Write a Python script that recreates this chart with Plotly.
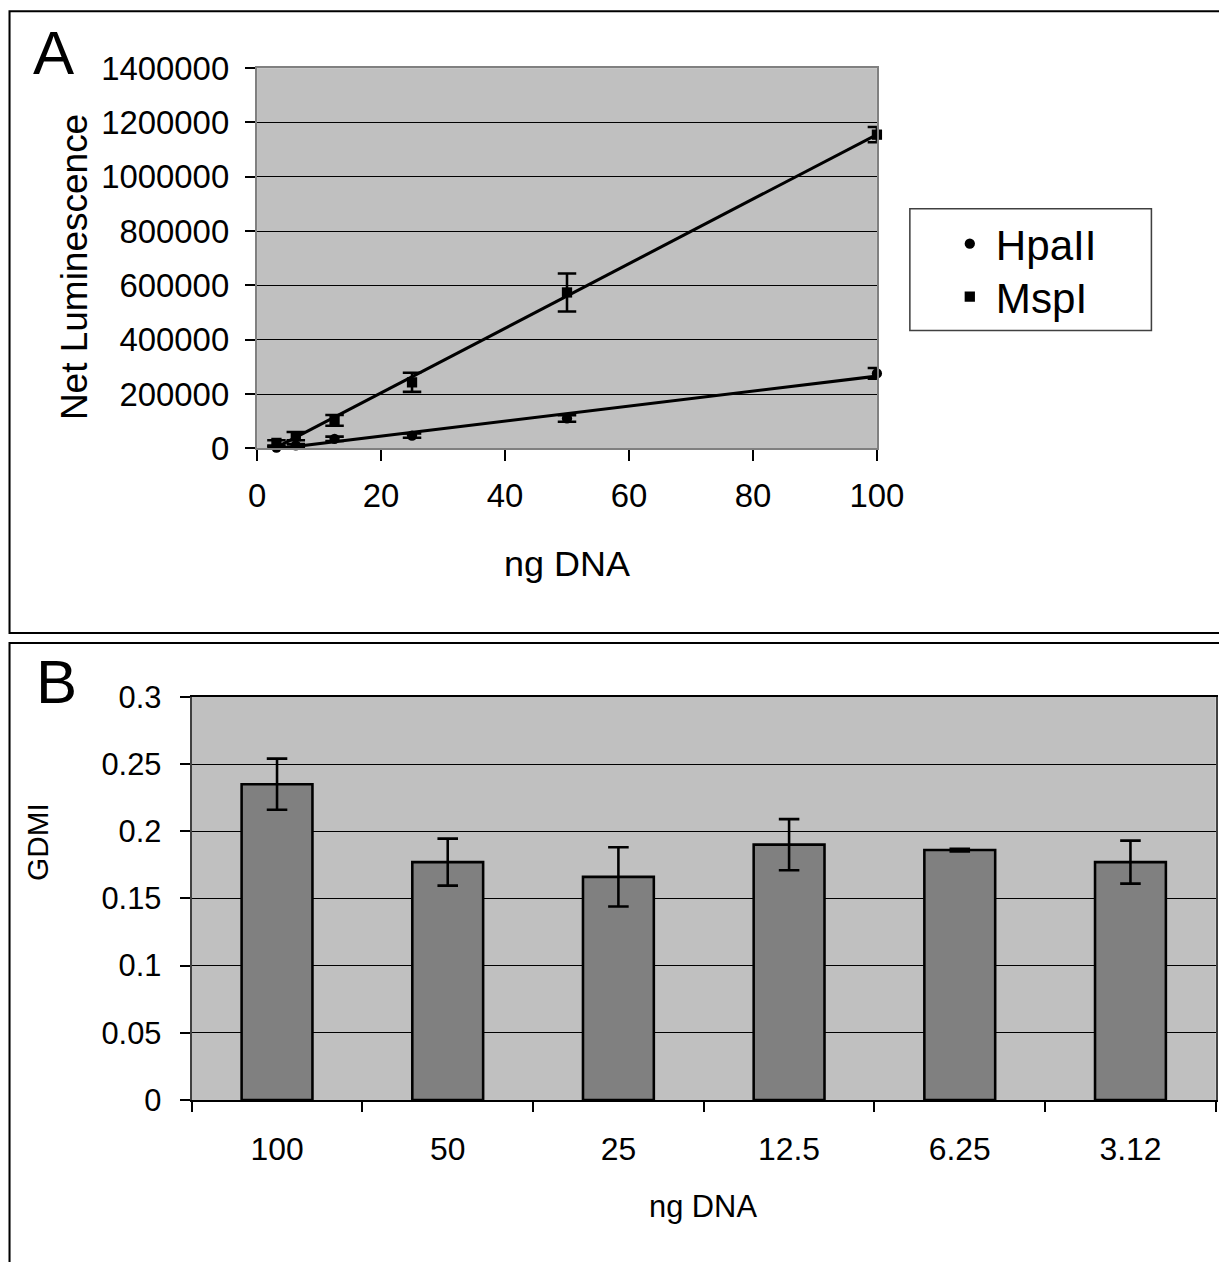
import numpy as np
import plotly.graph_objects as go

# ---- Panel A data ----
ng_dna = [3.125, 6.25, 12.5, 25, 50, 100]
hpaii = [3000, 11000, 35000, 47000, 110000, 276000]
hpaii_err = [3000, 5000, 8000, 8000, 12000, 20000]
mspi = [20000, 45000, 103000, 243000, 574000, 1155000]
mspi_err = [10000, 15000, 20000, 35000, 70000, 28000]

# ---- Panel B data ----
gdmi_labels = ["100", "50", "25", "12.5", "6.25", "3.12"]
gdmi = [0.235, 0.177, 0.166, 0.190, 0.186, 0.177]
gdmi_err = [0.019, 0.0175, 0.022, 0.019, 0.001, 0.016]

FONT = "Liberation Sans, Arial, sans-serif"

# Mapping from reference-image pixels to figure pixels (compensates the
# capture scale/offset observed for the rendered page).
SC = 0.973
OFF_X, OFF_Y = 7.7, 17.0
BODY = 8
FW, FH = 1250, 1275
S = 1 / SC


def fx(x):
    return (x - OFF_X) / SC - BODY


def fy(y):
    return (y - OFF_Y) / SC - BODY


def px(x):
    return fx(x) / FW


def py(y):
    return 1 - fy(y) / FH


def sz(v):
    return v * S


def isz(v):
    return int(round(v * S))


fig = go.Figure()


def trend(xs, ys):
    m, b = np.polyfit(xs, ys, 1)
    xx = np.array([min(xs), max(xs)])
    return xx, m * xx + b


for name, ys, errs, sym, leg in [
    ("HpaII", hpaii, hpaii_err, "circle", "legend"),
    ("MspI", mspi, mspi_err, "square", "legend2"),
]:
    fig.add_trace(go.Scatter(
        x=ng_dna, y=ys, mode="markers", name=name,
        marker=dict(symbol=sym, size=sz(10), color="black"),
        error_y=dict(type="data", array=errs, visible=True,
                     color="black", thickness=sz(2.5), width=sz(9)),
        cliponaxis=False, legend=leg,
        xaxis="x", yaxis="y",
    ))
    tx, ty = trend(ng_dna, ys)
    fig.add_trace(go.Scatter(
        x=tx, y=ty, mode="lines", showlegend=False,
        line=dict(color="black", width=sz(3)),
        xaxis="x", yaxis="y", hoverinfo="skip",
    ))

fig.add_trace(go.Bar(
    x=gdmi_labels, y=gdmi, showlegend=False,
    marker=dict(color="#808080", line=dict(color="black", width=sz(2.5))),
    error_y=dict(type="data", array=gdmi_err, visible=True,
                 color="black", thickness=sz(2.5), width=sz(10)),
    xaxis="x2", yaxis="y2",
))

axis_common = dict(
    ticks="outside", ticklen=sz(10), tickcolor="black", tickwidth=sz(1.5),
    showline=True, mirror=True, zeroline=False,
)

fig.update_layout(
    width=FW, height=FH,
    margin=dict(l=0, r=0, t=0, b=0),
    paper_bgcolor="white",
    plot_bgcolor="#C0C0C0",
    font=dict(family=FONT, color="black"),
    bargap=0.585,
    xaxis=dict(
        domain=[px(256), px(877)], range=[0, 100], dtick=20,
        showgrid=False, linecolor="#808080", linewidth=sz(2),
        anchor="y", ticklabelstandoff=isz(7),
        tickfont=dict(family=FONT, size=sz(32), color="black"),
        **axis_common,
    ),
    yaxis=dict(
        domain=[py(448), py(67)], range=[0, 1400000], dtick=200000,
        tickformat="d", showgrid=True, gridcolor="black", gridwidth=1,
        linecolor="#808080", linewidth=sz(2), anchor="x",
        ticklabelstandoff=isz(9),
        tickfont=dict(family=FONT, size=sz(32), color="black"),
        **axis_common,
    ),
    xaxis2=dict(
        domain=[px(190.5), px(1216.5)], type="category",
        tickson="boundaries", showgrid=False,
        linecolor="black", linewidth=sz(1.5), anchor="y2",
        ticklabelstandoff=isz(19),
        tickfont=dict(family=FONT, size=sz(31), color="black"),
        **axis_common,
    ),
    yaxis2=dict(
        domain=[py(1101), py(697)], range=[0, 0.3], dtick=0.05,
        showgrid=True, gridcolor="black", gridwidth=1,
        linecolor="#404040", linewidth=sz(1.5), anchor="x2",
        ticklabelstandoff=isz(12),
        tickfont=dict(family=FONT, size=sz(30), color="black"),
        **axis_common,
    ),
    legend=dict(
        x=px(944), xanchor="left", y=py(243), yanchor="middle",
        bgcolor="rgba(0,0,0,0)", borderwidth=0, itemwidth=42,
        font=dict(family=FONT, size=sz(41), color="black"),
    ),
    legend2=dict(
        x=px(944), xanchor="left", y=py(296), yanchor="middle",
        bgcolor="rgba(0,0,0,0)", borderwidth=0, itemwidth=42,
        font=dict(family=FONT, size=sz(41), color="black"),
    ),
)

shapes = [
    dict(type="path", xref="paper", yref="paper",
         path=f"M {px(1300)} {py(10)} L {px(8)} {py(10)} L {px(8)} {py(633)} L {px(1300)} {py(633)}",
         line=dict(color="black", width=sz(2))),
    dict(type="path", xref="paper", yref="paper",
         path=f"M {px(1300)} {py(643)} L {px(8)} {py(643)} L {px(8)} {py(1320)}",
         line=dict(color="black", width=sz(2))),
    dict(type="rect", xref="paper", yref="paper",
         x0=px(910), x1=px(1152), y0=py(330), y1=py(208),
         line=dict(color="#404040", width=sz(1.5)), fillcolor="white", layer="below"),
]
fig.update_layout(shapes=shapes)

annotations = [
    dict(text="A", x=px(52), y=py(51), size=60),
    dict(text="B", x=px(55), y=py(682), size=60),
    dict(text="Net Luminescence", x=px(73), y=py(266), textangle=-90, size=36),
    dict(text="ng DNA", x=px(567), y=py(563), size=35),
    dict(text="GDMI", x=px(36), y=py(842), textangle=-90, size=29),
    dict(text="ng DNA", x=px(703), y=py(1208), size=30),
]
ann = []
for a in annotations:
    size = a.pop("size")
    a.update(xref="paper", yref="paper", xanchor="center", yanchor="middle",
             showarrow=False, font=dict(family=FONT, color="black", size=sz(size)))
    ann.append(a)
fig.update_layout(annotations=ann)

fig.write_html("out.html")
